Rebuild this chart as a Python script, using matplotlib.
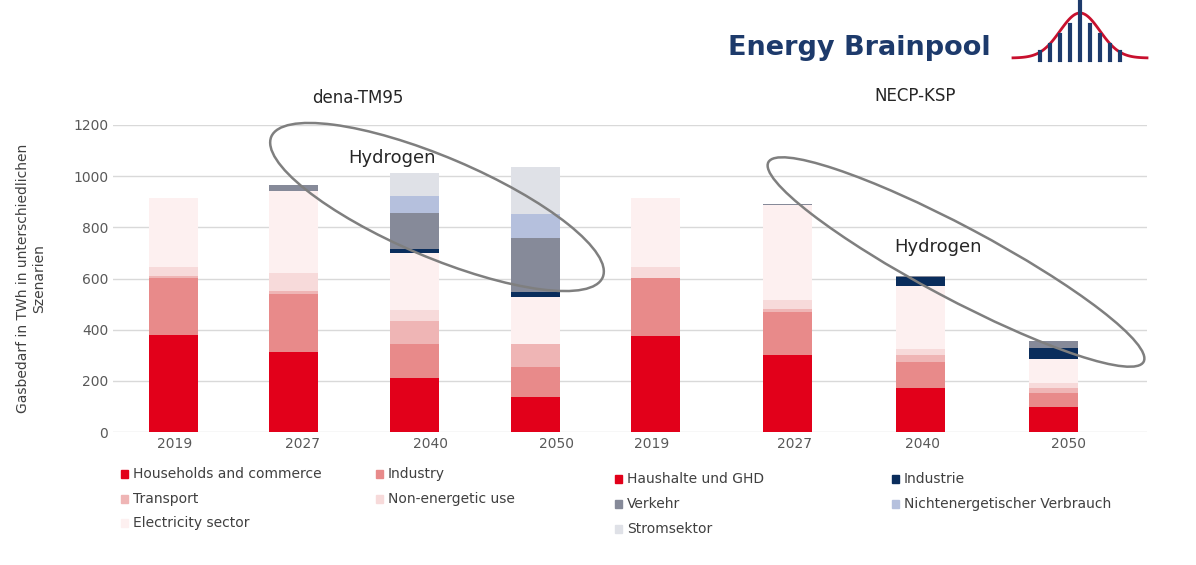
import matplotlib
matplotlib.use("Agg")
import matplotlib.pyplot as plt
import numpy as np
from matplotlib.patches import Ellipse

years = ["2019", "2027", "2040", "2050", "2019", "2027", "2040", "2050"]
xpos = [173, 293, 414, 535, 655, 787, 920, 1053]      # bar centres
tickpos = [175, 302, 430, 557, 652, 794, 922, 1068]   # label centres
# methane/natural gas components
households = [378, 314, 212, 135, 375, 301, 173, 99]
industry = [225, 226, 132, 118, 228, 169, 102, 55]
transport = [5, 11, 91, 91, 0, 10, 26, 17]
nonenergetic = [37, 71, 42, 0, 42, 36, 24, 19]
electricity = [270, 321, 222, 185, 270, 372, 246, 94]
# hydrogen components
h2_industrie = [0, 0, 15, 19, 0, 0, 36, 46]
h2_verkehr = [0, 22, 143, 209, 0, 5, 2, 26]
h2_nichtenerg = [0, 0, 64, 95, 0, 0, 0, 0]
h2_strom = [0, 0, 93, 185, 0, 0, 0, 0]

series = [
    ("Households and commerce", households, "#E2001A"),
    ("Industry", industry, "#E88A8A"),
    ("Transport", transport, "#EFB5B5"),
    ("Non-energetic use", nonenergetic, "#F7DADA"),
    ("Electricity sector", electricity, "#FDF0F0"),
    ("Industrie", h2_industrie, "#0A2D5C"),
    ("Verkehr", h2_verkehr, "#868A99"),
    ("Nichtenergetischer Verbrauch", h2_nichtenerg, "#B5C0DD"),
    ("Stromsektor", h2_strom, "#DFE1E7"),
]

fig = plt.figure(figsize=(11.96, 5.65), dpi=100)
ax = fig.add_axes([113/1196, 1-432/565, (1147-113)/1196, 307/565])
ax.set_xlim(113, 1147)
ax.set_ylim(0, 1200)
ax.set_yticks(range(0, 1201, 200))
ax.grid(axis="y", color="#D9D9D9", lw=1)
ax.set_axisbelow(True)
for s in ax.spines.values():
    s.set_visible(False)
ax.tick_params(length=0, colors="#595959", labelsize=10)
ax.set_xticks(tickpos)
ax.set_xticklabels(years)

bottom = np.zeros(len(xpos))
for name, vals, col in series:
    ax.bar(xpos, vals, width=49, bottom=bottom, color=col, zorder=2)
    bottom += np.array(vals)

ax.set_ylabel("Gasbedarf in TWh in unterschiedlichen\nSzenarien", fontsize=10, color="#404040")
ax.yaxis.set_label_coords(-0.065, 0.5)

def fig_ellipse(cx, cy, w, h, ang):
    e = Ellipse((cx, 565-cy), w, h, angle=ang, fill=False, ec="#7F7F7F", lw=1.8)
    e.set_transform(matplotlib.transforms.IdentityTransform())
    fig.add_artist(e)
fig_ellipse(437, 207, 360, 100, -23)
fig_ellipse(956, 262, 425, 72, -28)

fig.text(392/1196, 1-158/565, "Hydrogen", fontsize=13, color="#262626", ha="center", va="center")
fig.text(938/1196, 1-247/565, "Hydrogen", fontsize=13, color="#262626", ha="center", va="center")
fig.text(358/1196, 1-98/565, "dena-TM95", fontsize=12, color="#262626", ha="center", va="center")
fig.text(915/1196, 1-96/565, "NECP-KSP", fontsize=12, color="#262626", ha="center", va="center")

# logo
fig.text(728/1196, 1-48/565, "Energy Brainpool", fontsize=19.5, fontweight="bold",
         color="#1D3A6B", ha="left", va="center")
lx = np.linspace(1013, 1147, 100)
ly = 58 - 45*np.exp(-((lx-1080)/28)**2)
fig.add_artist(plt.Line2D(lx/1196, 1-ly/565, color="#C8102E", lw=2))
for bx, bh in zip([1040, 1050, 1060, 1070, 1080, 1090, 1100, 1110, 1120],
                  [8, 15, 25, 35, 58, 35, 25, 15, 8]):
    fig.add_artist(plt.Line2D([bx/1196]*2, [1-60/565, 1-(60-bh)/565], color="#1D3A6B", lw=3))

def leg(items, x0, x1, y0, dy):
    for i, (name, col) in enumerate(items):
        x = x0 if i % 2 == 0 else x1
        y = y0 + (i // 2) * dy
        fig.patches.append(matplotlib.patches.Rectangle(((x-12)/1196, 1-(y+4)/565), 7/1196, 8/565,
                           transform=fig.transFigure, color=col, figure=fig))
        fig.text(x/1196, 1-y/565, name, fontsize=10, color="#404040", va="center", ha="left")

leg([(n, c) for n, v, c in series[:5]], 133, 388, 474, 24.5)
leg([("Haushalte und GHD", "#E2001A"), ("Industrie", "#0A2D5C"),
     ("Verkehr", "#868A99"), ("Nichtenergetischer Verbrauch", "#B5C0DD"),
     ("Stromsektor", "#DFE1E7")], 627, 904, 479, 25)

fig.savefig("out.png", dpi=100)
